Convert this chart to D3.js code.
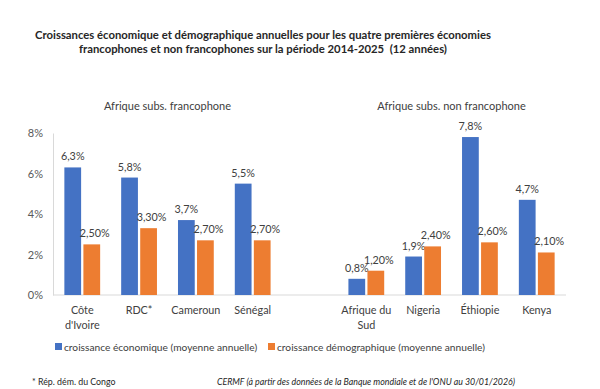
<!DOCTYPE html>
<html><head><meta charset="utf-8">
<script src="https://cdn.jsdelivr.net/npm/d3@7"></script>
<style>body{margin:0;background:#fff}svg{display:block}text{white-space:pre}</style>
</head><body>
<script>
const categories = [["Côte","d'Ivoire"],["RDC*"],["Cameroun"],["Sénégal"],[""],["Afrique du","Sud"],["Nigeria"],["Éthiopie"],["Kenya"]];
const ecoGrowth = [6.3, 5.8, 3.7, 5.5, null, 0.8, 1.9, 7.8, 4.7];
const ecoLabels = ["6,3%","5,8%","3,7%","5,5%","","0,8%","1,9%","7,8%","4,7%"];
const demoGrowth = [2.5, 3.3, 2.7, 2.7, null, 1.2, 2.4, 2.6, 2.1];
const demoLabels = ["2,50%","3,30%","2,70%","2,70%","","1,20%","2,40%","2,60%","2,10%"];
const yTicks = [0, 2, 4, 6, 8];
const seriesNames = ["croissance économique (moyenne annuelle)","croissance démographique (moyenne annuelle)"];
const colors = ["#4472C4","#ED7D31"];
const titleLines = ["Croissances économique et démographique annuelles pour les quatre premières économies","francophones et non francophones sur la période 2014-2025  (12 années)"];
const groupTitles = [{text:"Afrique subs. francophone", from:0, to:3},{text:"Afrique subs. non francophone", from:5, to:8}];

const W=600,H=389, font="Lato, 'Open Sans', sans-serif";
const svg=d3.select("body").append("svg").attr("width",W).attr("height",H).style("font-family",font);

const x=d3.scaleBand().domain(d3.range(categories.length)).range([53,566]).paddingInner(0.37).paddingOuter(0.2);
const xs=d3.scaleBand().domain([0,1]).range([0,x.bandwidth()]).paddingInner(0.12);
const y=d3.scaleLinear().domain([0,8]).range([295,133]);

// title
svg.append("g").selectAll("text").data(titleLines).join("text")
  .attr("x",263).attr("y",(d,i)=>38.5+i*14.5).attr("text-anchor","middle")
  .attr("font-size",11.3).attr("font-weight",700).attr("fill","#262626").text(d=>d);

// group titles
svg.append("g").selectAll("text").data(groupTitles).join("text")
  .attr("x",d=>(x(d.from)+x(d.to)+x.bandwidth())/2).attr("y",110)
  .attr("text-anchor","middle").attr("font-size",11).attr("fill","#404040").text(d=>d.text);

// y axis
const ya=svg.append("g").attr("transform","translate(53,0)")
  .call(d3.axisLeft(y).tickValues(yTicks).tickSize(0).tickPadding(10).tickFormat(d=>d+"%"));
ya.select(".domain").attr("stroke","#d9d9d9");
ya.selectAll("text").attr("font-size",11).attr("fill","#595959").attr("font-family",font);

// x axis baseline
svg.append("line").attr("x1",53).attr("x2",566).attr("y1",y(0)).attr("y2",y(0)).attr("stroke","#d9d9d9");

const series=[{vals:ecoGrowth,labs:ecoLabels},{vals:demoGrowth,labs:demoLabels}];
series.forEach((s,si)=>{
  const g=svg.append("g");
  const idx=d3.range(categories.length).filter(i=>s.vals[i]!=null);
  g.selectAll("rect").data(idx).join("rect")
    .attr("x",i=>x(i)+xs(si)).attr("width",xs.bandwidth())
    .attr("y",i=>y(s.vals[i])).attr("height",i=>y(0)-y(s.vals[i])).attr("fill",colors[si]);
  g.selectAll("text").data(idx).join("text")
    .attr("x",i=>x(i)+xs(si)+xs.bandwidth()/2+(si?3:0)).attr("y",i=>y(s.vals[i])-7)
    .attr("text-anchor","middle").attr("font-size",10.8).attr("fill","#404040").text(i=>s.labs[i]);
});

// category labels
svg.append("g").selectAll("text").data(d3.range(categories.length)).join("text")
  .attr("x",i=>x(i)+x.bandwidth()/2).attr("y",314).attr("text-anchor","middle")
  .attr("font-size",10.8).attr("fill","#404040")
  .each(function(i){
    d3.select(this).selectAll("tspan").data(categories[i]).join("tspan")
      .attr("x",x(i)+x.bandwidth()/2).attr("dy",(d,k)=>k?15:0).text(d=>d);
  });

// legend
const leg=[{x:55},{x:268}];
seriesNames.forEach((n,i)=>{
  svg.append("rect").attr("x",leg[i].x).attr("y",343).attr("width",7).attr("height",7).attr("fill",colors[i]);
  svg.append("text").attr("x",leg[i].x+9).attr("y",350.5).attr("font-size",10.2).attr("fill","#404040").text(n);
});

// footnotes
svg.append("text").attr("x",32).attr("y",385).attr("font-size",8.8).attr("fill","#262626").text("* Rép. dém. du Congo");
svg.append("text").attr("x",515).attr("y",385).attr("text-anchor","end").attr("font-size",8.8).attr("font-style","italic").attr("fill","#262626")
  .text("CERMF (à partir des données de la Banque mondiale et de l'ONU au 30/01/2026)");
</script>
</body></html>
